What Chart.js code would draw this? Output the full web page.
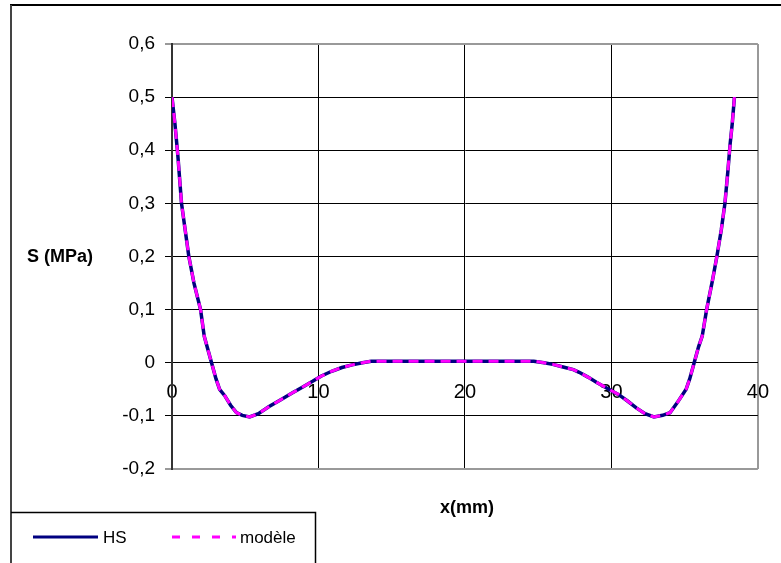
<!DOCTYPE html>
<html>
<head>
<meta charset="utf-8">
<script src="https://cdn.jsdelivr.net/npm/chart.js@4"></script>
<style>
  html, body { margin: 0; padding: 0; background: #fff; }
</style>
</head>
<body>
<canvas id="sChart" width="781" height="563"></canvas>
<script>
// x position (mm) and S (MPa)
const xHS = [0, 0.2, 0.4, 0.65, 0.9, 1.15, 1.5, 1.95, 2.2, 2.45, 2.7, 3.0, 3.25, 3.6, 4.0, 4.4, 4.8, 5.3, 5.9, 6.6, 7.4, 8.2, 8.9, 9.6, 10.2, 10.9, 11.6, 12.3, 13.0, 13.6,
  14.5, 16, 18, 20, 22, 24, 24.7,
  25.4, 26.0, 26.7, 27.4, 27.8, 28.4, 29.0, 29.7, 30.5, 31.1, 31.7, 32.3, 32.9, 33.5, 34.0, 34.5, 35.1, 35.35, 35.65, 35.95, 36.2, 36.5, 36.9, 37.2, 37.5, 37.75, 37.95, 38.1, 38.25, 38.4];
const sHS = [0.50, 0.45, 0.39, 0.30, 0.25, 0.20, 0.15, 0.10, 0.05, 0.025, 0.0, -0.03, -0.05, -0.062, -0.08, -0.094, -0.099, -0.102, -0.096, -0.083, -0.07, -0.057, -0.046, -0.035, -0.025, -0.016, -0.009, -0.004, 0.0, 0.003,
  0.003, 0.003, 0.003, 0.003, 0.003, 0.003, 0.003,
  0.0, -0.003, -0.008, -0.013, -0.018, -0.027, -0.037, -0.048, -0.06, -0.072, -0.085, -0.096, -0.102, -0.099, -0.094, -0.075, -0.05, -0.03, 0.0, 0.03, 0.05, 0.10, 0.155, 0.20, 0.25, 0.30, 0.36, 0.41, 0.45, 0.50];

const xModele = xHS.slice();
const sModele = [0.50, 0.45, 0.39, 0.30, 0.25, 0.20, 0.15, 0.10, 0.05, 0.025, 0.0, -0.03, -0.05, -0.062, -0.08, -0.094, -0.099, -0.102, -0.096, -0.083, -0.07, -0.057, -0.046, -0.035, -0.025, -0.016, -0.009, -0.004, 0.0, 0.003,
  0.003, 0.003, 0.003, 0.003, 0.003, 0.003, 0.003,
  0.0, -0.003, -0.008, -0.013, -0.018, -0.027, -0.037, -0.048, -0.06, -0.072, -0.085, -0.096, -0.102, -0.099, -0.094, -0.075, -0.05, -0.03, 0.0, 0.03, 0.05, 0.10, 0.155, 0.20, 0.25, 0.30, 0.36, 0.41, 0.45, 0.50];

const seriesNames = ['HS', 'modèle'];
const xMin = 0, xMax = 40, xStep = 10;
const yMin = -0.2, yMax = 0.6, yStep = 0.1;

const FONT = '"Liberation Sans", Arial, sans-serif';

function isEdge(v, a, b) {
  return Math.abs(v - a) < 1e-6 || Math.abs(v - b) < 1e-6;
}

// frame, axis titles and the boxed legend, like the spreadsheet original
const decor = {
  id: 'decor',
  afterDraw(chart) {
    const ctx = chart.ctx;
    const ds = chart.data.datasets;
    ctx.save();
    // outer frame
    ctx.strokeStyle = '#000';
    ctx.lineWidth = 2;
    ctx.beginPath();
    ctx.moveTo(10, 5);
    ctx.lineTo(781, 5);
    ctx.stroke();
    ctx.strokeStyle = '#444';
    ctx.beginPath();
    ctx.moveTo(11, 5);
    ctx.lineTo(11, 563);
    ctx.stroke();
    // legend box
    ctx.strokeStyle = '#000';
    ctx.lineWidth = 1.5;
    ctx.beginPath();
    ctx.moveTo(11, 512.5);
    ctx.lineTo(315.5, 512.5);
    ctx.lineTo(315.5, 563);
    ctx.stroke();

    ctx.lineWidth = 3;
    ctx.strokeStyle = ds[1].borderColor;
    ctx.beginPath();
    ctx.moveTo(33, 537);
    ctx.lineTo(98, 537);
    ctx.stroke();
    ctx.strokeStyle = ds[0].borderColor;
    ctx.setLineDash([8, 12]);
    ctx.beginPath();
    ctx.moveTo(172, 537);
    ctx.lineTo(236, 537);
    ctx.stroke();
    ctx.setLineDash([]);

    ctx.fillStyle = '#000';
    ctx.textBaseline = 'middle';
    ctx.font = '17px ' + FONT;
    ctx.fillText(ds[1].label, 103, 538);
    ctx.fillText(ds[0].label, 240, 538);

    // axis titles
    ctx.font = 'bold 18px ' + FONT;
    ctx.fillText('S (MPa)', 27, 257);
    ctx.textAlign = 'center';
    ctx.fillText('x(mm)', 467, 508);
    ctx.restore();
  }
};

new Chart(document.getElementById('sChart'), {
  type: 'line',
  data: {
    datasets: [{
      label: seriesNames[1],
      data: xModele.map((x, i) => ({ x: x, y: sModele[i] })),
      borderColor: '#ff00ff',
      borderWidth: 3,
      borderDash: [10, 6],
      pointRadius: 0,
      tension: 0,
      order: 1
    }, {
      label: seriesNames[0],
      data: xHS.map((x, i) => ({ x: x, y: sHS[i] })),
      borderColor: '#000080',
      borderWidth: 3.5,
      pointRadius: 0,
      tension: 0,
      order: 2
    }]
  },
  options: {
    responsive: false,
    animation: false,
    layout: { padding: { top: 44, right: 18, bottom: 94, left: 0 } },
    plugins: {
      legend: { display: false },
      tooltip: { enabled: false }
    },
    scales: {
      x: {
        type: 'linear',
        position: { y: 0 },
        min: xMin,
        max: xMax,
        ticks: {
          stepSize: xStep,
          color: '#000',
          font: { family: FONT, size: 20 },
          padding: 12,
          maxRotation: 0
        },
        grid: {
          color: c => isEdge(c.tick.value, xMax, xMax) ? '#999' : '#000',
          lineWidth: c => isEdge(c.tick.value, xMax, xMax) ? 2 : 1,
          tickLength: 6
        },
        border: { color: '#000', width: 1 }
      },
      y: {
        min: yMin,
        max: yMax,
        afterFit: scale => { scale.width = 172; },
        ticks: {
          stepSize: yStep,
          color: '#000',
          font: { family: FONT, size: 19 },
          padding: 10,
          callback: v => {
            const r = Math.round(v * 10) / 10;
            return r === 0 ? '0' : r.toFixed(1).replace('.', ',');
          }
        },
        grid: {
          color: c => isEdge(c.tick.value, yMin, yMax) ? '#999' : '#000',
          lineWidth: c => isEdge(c.tick.value, yMin, yMax) ? 2 : 1,
          tickLength: 7
        },
        border: { color: '#333', width: 2 }
      }
    }
  },
  plugins: [decor]
});
</script>
</body>
</html>
